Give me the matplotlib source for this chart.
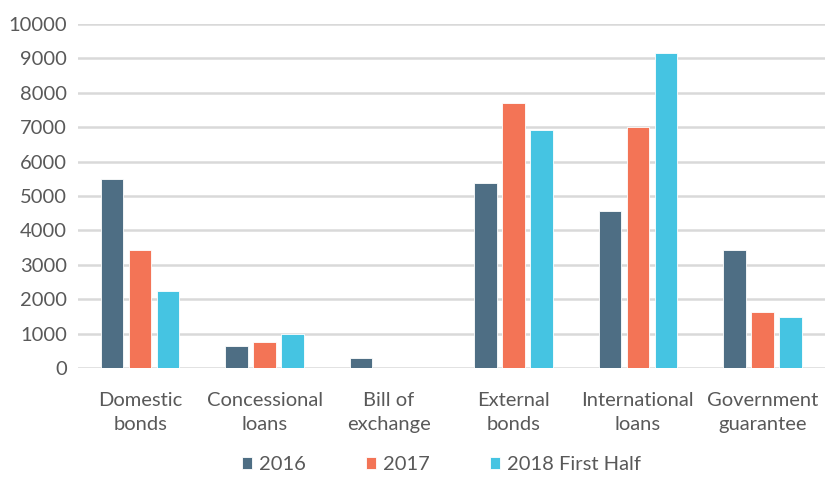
import matplotlib.pyplot as plt
import numpy as np

categories = ["Domestic\nbonds", "Concessional\nloans", "Bill of\nexchange",
              "External\nbonds", "International\nloans", "Government\nguarantee"]
series_names = ["2016", "2017", "2018 First Half"]
v2016 = [5500, 650, 290, 5380, 4570, 3430]
v2017 = [3430, 760, 0, 7690, 6990, 1640]
v2018 = [2230, 980, 0, 6920, 9150, 1490]
colors = ["#4E6E84", "#F37456", "#45C4E2"]

plt.rcParams['font.family'] = ['Lato', 'DejaVu Sans']
txt = "#595959"

fig = plt.figure(figsize=(8.25, 4.78), dpi=100)
ax = fig.add_axes([0.0945, 0.23, 0.905, 0.72])

x = np.arange(len(categories))
w = 0.18
step = 0.225
for i, (vals, name) in enumerate(zip([v2016, v2017, v2018], series_names)):
    ax.bar(x + (i - 1) * step, vals, width=w, color=colors[i], label=name,
           edgecolor="white", linewidth=0.6, zorder=3)

ax.set_xlim(-0.5, len(categories) - 0.5)
ax.set_ylim(0, 10000)
ax.set_yticks(range(0, 10001, 1000))
ax.grid(axis="y", color="#D9D9D9", linewidth=1.8, zorder=0)
for s in ax.spines.values():
    s.set_visible(False)
ax.tick_params(axis="both", length=0, labelsize=14.5, colors=txt, pad=8)
ax.tick_params(axis="x", pad=17)
ax.set_xticks(x)
ax.set_xticklabels(categories, linespacing=1.55)

leg = ax.legend(loc="center", bbox_to_anchor=(0.487, -0.28), ncol=3, frameon=False,
                fontsize=14.5, handlelength=0.5, handleheight=0.5, columnspacing=3.0,
                handletextpad=0.35)
for t in leg.get_texts():
    t.set_color(txt)

fig.savefig("out.png", dpi=100)
